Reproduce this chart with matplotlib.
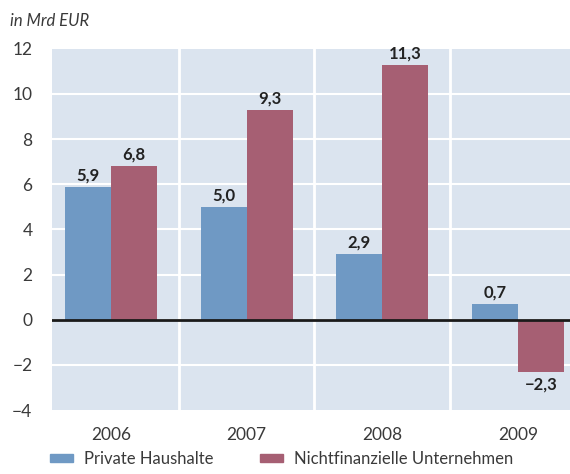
import matplotlib.pyplot as plt
import numpy as np

plt.rcParams['font.family'] = ['Lato', 'DejaVu Sans']

years = ['2006', '2007', '2008', '2009']
haushalte = [5.9, 5.0, 2.9, 0.7]
unternehmen = [6.8, 9.3, 11.3, -2.3]
labels_h = ['5,9', '5,0', '2,9', '0,7']
labels_u = ['6,8', '9,3', '11,3', '\u22122,3']

blue = '#6f99c4'
red = '#a65f73'
bg = '#dbe4ef'

fig = plt.figure(figsize=(5.7, 4.74), dpi=100)
ax = fig.add_axes([0.091, 0.135, 0.909, 0.762])
ax.set_facecolor(bg)

x = np.arange(len(years))
w = 0.34
ax.bar(x - w / 2, haushalte, w, color=blue, zorder=3)
ax.bar(x + w / 2, unternehmen, w, color=red, zorder=3)

for i in range(len(years)):
    ax.text(x[i] - w / 2, haushalte[i] + 0.15, labels_h[i], ha='center', va='bottom',
            fontsize=12, fontweight='bold', color='#222222', zorder=4)
    v = unternehmen[i]
    if v >= 0:
        ax.text(x[i] + w / 2, v + 0.15, labels_u[i], ha='center', va='bottom',
                fontsize=12, fontweight='bold', color='#222222', zorder=4)
    else:
        ax.text(x[i] + w / 2, v - 0.2, labels_u[i], ha='center', va='top',
                fontsize=12, fontweight='bold', color='#222222', zorder=4)

ax.set_xlim(-0.436, 3.384)
ax.set_ylim(-4, 12)
ax.set_yticks(range(-4, 13, 2))
ax.set_yticklabels([str(t).replace('-', '\u2212') for t in range(-4, 13, 2)])
ax.set_xticks(x)
ax.set_xticklabels(years)

for yv in range(-2, 12, 2):
    ax.axhline(yv, color='white', lw=1.5, zorder=1)
for xv in [0.5, 1.5, 2.5]:
    ax.axvline(xv, color='white', lw=2, zorder=1)
ax.axhline(0, color='#1a1a1a', lw=2, zorder=5)

for s in ax.spines.values():
    s.set_visible(False)
ax.tick_params(length=0, labelsize=12.5, colors='#3a3a3a')
ax.tick_params(axis='x', pad=12)
ax.tick_params(axis='y', pad=14)

fig.text(0.018, 0.955, 'in Mrd EUR', fontsize=12, style='italic',
         color='#3a3a3a', va='center')

# legend
fig.patches.append(plt.Rectangle((0.088, 0.025), 0.04, 0.017, color=blue, transform=fig.transFigure))
fig.text(0.148, 0.032, 'Private Haushalte', fontsize=12, color='#3a3a3a', va='center')
fig.patches.append(plt.Rectangle((0.456, 0.025), 0.04, 0.017, color=red, transform=fig.transFigure))
fig.text(0.515, 0.032, 'Nichtfinanzielle Unternehmen', fontsize=12, color='#3a3a3a', va='center')

fig.savefig('out.png', dpi=100)
